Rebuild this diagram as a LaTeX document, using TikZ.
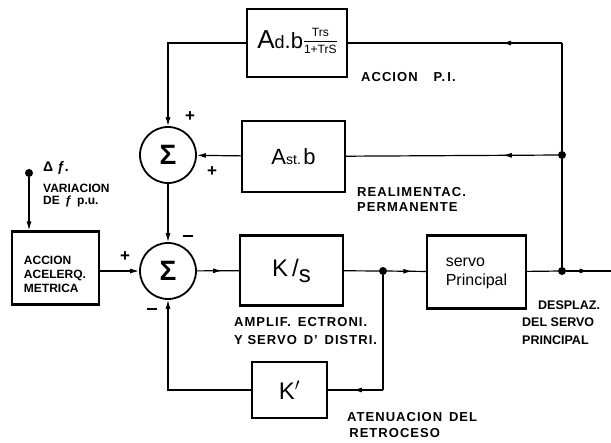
\documentclass[tikz,border=0pt]{standalone}
\usepackage{fontspec}
\setmainfont{Liberation Sans}
\usetikzlibrary{arrows.meta,decorations.markings}
\begin{document}
\begin{tikzpicture}[x=1pt,y=-1pt,
  blk/.style={draw,line width=2.2pt,inner sep=0pt},
  sumnode/.style={draw,circle,line width=1.8pt,minimum size=56pt,inner sep=0pt,font=\fontsize{28}{28}\selectfont\bfseries},
  wire/.style={line width=1.2pt},
  tip/.style={-{Latex[length=9pt,width=5pt]}},
  midarrow/.style={postaction={decorate},decoration={markings,mark=at position #1 with {\arrow{Latex[length=9pt,width=5pt]}}}},
  lbl/.style={font=\fontsize{12}{14}\selectfont\bfseries, inner sep=0pt, anchor=west, align=left},
  wlbl/.style={lbl,font=\fontsize{13}{#1}\selectfont\bfseries\addfontfeature{LetterSpace=8}},
  sgn/.style={font=\fontsize{17}{17}\selectfont\bfseries, inner sep=0pt},
  dotn/.style={circle,fill,inner sep=0pt,minimum size=8pt}
]
\useasboundingbox (0,0) rectangle (611,443);

% blocks
\node[blk,minimum width=100pt,minimum height=68pt] (pi) at (297,43)
  {{\fontsize{26}{26}\selectfont A}{\fontsize{18}{18}\selectfont d}{\fontsize{22}{22}\selectfont .b}\hspace{1pt}\raisebox{3pt}{\fontsize{12}{12}\selectfont\begin{tabular}{@{}c@{}}Trs\\[1pt]\hline\rule{0pt}{12pt}1+TrS\end{tabular}}};
\node[blk,minimum width=103pt,minimum height=71pt] (ast) at (293.5,156.5)
  {{\fontsize{22}{22}\selectfont A}{\fontsize{14}{14}\selectfont st.\,}{\fontsize{22}{22}\selectfont b}};
\node[sumnode] (s1) at (168,155) {Σ};
\node[sumnode] (s2) at (168,271) {Σ};
\node[blk,minimum width=87pt,minimum height=73pt] (acc) at (55.5,268) {};
\node[lbl,anchor=center] (acct) at (55,274) {ACCION\\ACELERQ.\\METRICA};
\node[blk,minimum width=103pt,minimum height=70pt] (ks) at (291.5,270.5)
  {\fontsize{24}{24}\selectfont K\,/\raisebox{-6pt}{s}};
\node[blk,minimum width=99pt,minimum height=73pt] (srv) at (476.5,272)
  {\fontsize{16}{19}\selectfont\begin{tabular}{@{}l@{}}servo\\Principal\end{tabular}};
\node[blk,minimum width=75pt,minimum height=56pt] (kp) at (289.5,390)
  {\fontsize{24}{24}\selectfont K$'$};

% junctions
\node[dotn] (d0) at (29,173) {};
\node[dotn] (j1) at (383,271) {};
\node[dotn] (j2) at (562,271) {};
\node[dotn] (j3) at (562,155) {};
\coordinate (tr) at (562,43);
\coordinate (tl) at (168,43);
\coordinate (out) at (611,271);
\coordinate (fb1) at (383,390);
\coordinate (fb2) at (168,390);

% connectors
\draw[wire,tip] (d0) -- (d0 |- acc.north);
\draw[wire,tip] (acc.east |- s2.west) -- (s2.west);
\draw[wire,tip] (s1) -- (s2);
\draw[wire,midarrow=0.6] (s2) -- (ks);
\draw[wire] (ks) -- (j1);
\draw[wire,midarrow=0.65] (j1) -- (srv);
\draw[wire] (srv) -- (j2);
\draw[wire,midarrow=0.5] (j2) -- (out);
\draw[wire] (j2) -- (j3) -- (tr);
\draw[wire,midarrow=0.28] (tr) -- (pi);
\draw[wire,tip] (pi) -- (tl) -- (s1);
\draw[wire,midarrow=0.26] (j3) -- (ast);
\draw[wire,tip] (ast) -- (s1);
\draw[wire] (j1) -- (fb1);
\draw[wire,midarrow=0.55] (fb1) -- (kp);
\draw[wire,tip] (kp) -- (fb2) -- (s2);

% signs
\node[sgn] (p1) at (190,117) {+};
\node[sgn] (p2) at (212,172) {+};
\node[sgn] (m1) at (188,236) {\rule{10pt}{1.8pt}};
\node[sgn] (p3) at (125,257) {+};
\node[sgn] (m2) at (152,309) {\rule{10pt}{1.8pt}};

% labels
\node[lbl,font=\fontsize{14}{14}\selectfont\bfseries] (df) at (43,168) {Δ ƒ.};
\node[lbl,font=\fontsize{12}{12}\selectfont\bfseries] (var) at (43,196) {VARIACION\\DE\, ƒ\, p.u.};
\node[wlbl=15] (lpi) at (361,77) {ACCION\hspace{16pt}P.\,I.};
\node[wlbl=15] (lre) at (357,199.5) {REALIMENTAC.\\PERMANENTE};
\node[wlbl=18] (lam) at (234,331) {AMPLIF.\, ECTRONI.\\Y SERVO\, D'\, DISTRI.};
\node[wlbl=16] (lat) at (347,425) {ATENUACION\, DEL\\\,RETROCESO};
\node[lbl,font=\fontsize{12.5}{17.5}\selectfont\bfseries] (lde) at (522,322.5) {\hspace*{16pt}DESPLAZ.\\DEL SERVO\\PRINCIPAL};
\end{tikzpicture}
\end{document}
